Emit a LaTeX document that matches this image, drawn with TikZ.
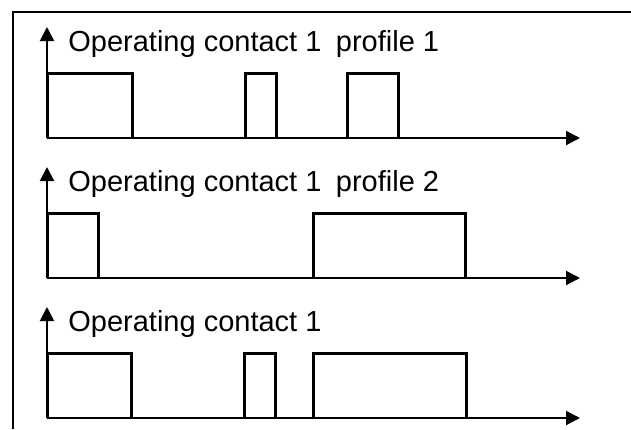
\documentclass[tikz,border=0pt]{standalone}
\usepackage{fontspec}
\setmainfont{Liberation Sans}
\usetikzlibrary{arrows.meta}
\begin{document}
\begin{tikzpicture}[x=0.5pt,y=-0.5pt]
	% Styles
	\tikzstyle{cadre}=[line width=0.8pt]
	\tikzstyle{axe}=[-{Triangle[length=7pt,width=7pt]},line width=1pt]
	\tikzstyle{signal}=[line width=1.5pt,line join=miter]
	\tikzstyle{titre}=[anchor=base west,inner sep=0pt,font=\fontsize{14.5}{17}\selectfont]
	% Dimensions
	\def\AxeX{47}
	\def\FinX{580}
	\def\BaseA{138}
	\def\BaseB{278}
	\def\BaseC{418}
	\def\Haut{65}
	\def\Fleche{111}
	\def\Texte{87}
	\useasboundingbox (0,0) rectangle (631,429);
	% Cadre
	\coordinate (HD) at (631,12);
	\coordinate (HG) at (13,12);
	\coordinate (BG) at (13,429);
	\draw[cadre] (HD) -- (HG) -- (BG);
	% Diagramme A
	\coordinate (OA) at (\AxeX,\BaseA);
	\coordinate (YA) at (\AxeX,{\BaseA-\Fleche});
	\coordinate (XA) at (\FinX,\BaseA);
	\node[titre] (TA) at (68,{\BaseA-\Texte}) {Operating contact 1\hspace{0.5em}profile 1};
	\draw[axe] (OA) -- (YA);
	\draw[axe] (OA) -- (XA);
	\draw[signal] (OA) |- (132,{\BaseA-\Haut}) -- (132,\BaseA);
	\draw[signal] (245,\BaseA) |- (276,{\BaseA-\Haut}) -- (276,\BaseA);
	\draw[signal] (347,\BaseA) |- (398,{\BaseA-\Haut}) -- (398,\BaseA);
	% Diagramme B
	\coordinate (OB) at (\AxeX,\BaseB);
	\coordinate (YB) at (\AxeX,{\BaseB-\Fleche});
	\coordinate (XB) at (\FinX,\BaseB);
	\node[titre] (TB) at (68,{\BaseB-\Texte}) {Operating contact 1\hspace{0.5em}profile 2};
	\draw[axe] (OB) -- (YB);
	\draw[axe] (OB) -- (XB);
	\draw[signal] (OB) |- (98,{\BaseB-\Haut}) -- (98,\BaseB);
	\draw[signal] (313,\BaseB) |- (465,{\BaseB-\Haut}) -- (465,\BaseB);
	% Diagramme C
	\coordinate (OC) at (\AxeX,\BaseC);
	\coordinate (YC) at (\AxeX,{\BaseC-\Fleche});
	\coordinate (XC) at (\FinX,\BaseC);
	\node[titre] (TC) at (68,{\BaseC-\Texte}) {Operating contact 1};
	\draw[axe] (OC) -- (YC);
	\draw[axe] (OC) -- (XC);
	\draw[signal] (OC) |- (131,{\BaseC-\Haut}) -- (131,\BaseC);
	\draw[signal] (244,\BaseC) |- (275,{\BaseC-\Haut}) -- (275,\BaseC);
	\draw[signal] (313,\BaseC) |- (466,{\BaseC-\Haut}) -- (466,\BaseC);
\end{tikzpicture}
\end{document}
